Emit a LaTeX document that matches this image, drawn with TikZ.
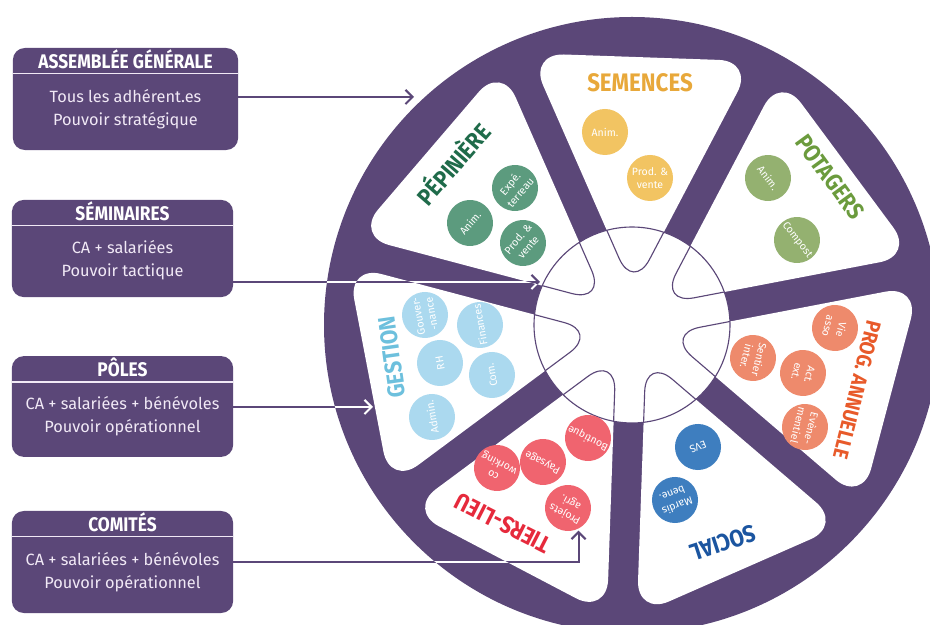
\documentclass[tikz,border=0pt]{standalone}
\usepackage{fontspec}
\setmainfont{Fira Sans}
\newfontfamily\headfont[FakeStretch=0.88]{Fira Sans}
\usetikzlibrary{calc,arrows.meta,positioning}

\definecolor{wheel}{HTML}{5B4778}
\definecolor{boxtext}{HTML}{F1E9F6}
\definecolor{pepT}{HTML}{1F6B4A}
\definecolor{pepB}{HTML}{5C9B7E}
\definecolor{semT}{HTML}{E8A83A}
\definecolor{semB}{HTML}{F2C462}
\definecolor{potT}{HTML}{6B9B3D}
\definecolor{potB}{HTML}{94B170}
\definecolor{proT}{HTML}{E85A2A}
\definecolor{proB}{HTML}{EE8A6C}
\definecolor{socT}{HTML}{1B55A0}
\definecolor{socB}{HTML}{3E7EBF}
\definecolor{tieT}{HTML}{E62A3C}
\definecolor{tieB}{HTML}{F0646F}
\definecolor{gesT}{HTML}{6DC0DD}
\definecolor{gesB}{HTML}{ABD9EF}

\begin{document}
\begin{tikzpicture}[x=0.025cm, y=0.025cm,
	>={Straight Barb[length=5pt,width=10pt]},
	box/.style={fill=wheel, rounded corners=0.3cm, minimum width=5.53cm, minimum height=2.52cm, inner sep=0pt},
	hdr/.style={text=white, font=\headfont\bfseries\fontsize{14}{14}\selectfont},
	txt/.style={text=boxtext, align=center, font=\fontsize{11.6}{16.3}\selectfont},
	divide/.style={draw=boxtext, line width=1pt},
	arr/.style={->, draw=wheel, line width=1.5pt},
	ttl/.style={font=\headfont\bfseries\fontsize{17}{17}\selectfont},
	bub/.style={circle, minimum size=1.15cm, inner sep=0pt, text=white, align=center, font=\fontsize{7.5}{9.5}\selectfont},
	pepbub/.style={bub, fill=pepB, rotate=50},
	sembub/.style={bub, fill=semB},
	potbub/.style={bub, fill=potB, rotate=-52},
	probub/.style={bub, fill=proB, rotate=-104},
	socbub/.style={bub, fill=socB, rotate=-158},
	tiebub/.style={bub, fill=tieB, rotate=153},
	gesbub/.style={bub, fill=gesB, rotate=100}]
	\path[use as bounding box] (0,0) rectangle (930,625);
	\clip (0,0) rectangle (930,625);
	\fill[white] (0,0) rectangle (930,625);
	
	% wheel
	\coordinate (C) at (632,300);
	\fill[wheel] (C) circle (308);
	\foreach \k/\ang in {0/88,1/36.57,2/-14.86,3/-66.29,4/-117.71,5/-169.14,6/139.43} {
		\coordinate (t\k) at ($(C)+(\ang:34.6)$);
		\coordinate (a\k) at ($(C)+({\ang-22.76}:290.6)$);
		\coordinate (b\k) at ($(C)+({\ang+22.76}:290.6)$);
	}
	\foreach \k in {0,...,6}
		\fill[white, rounded corners=0.875cm] (t\k) -- (a\k) -- (b\k) -- cycle;
	
	% hub
	\fill[white] (C) circle (98);
	\begin{scope}
		\clip (C) circle (98);
		\foreach \k in {0,...,6}
			\draw[wheel, line width=0.8pt, rounded corners=0.875cm] (t\k) -- (a\k) -- (b\k) -- cycle;
	\end{scope}
	\draw[wheel, line width=0.8pt] (C) circle (98);
	
	% titles
	\node[ttl, text=semT, font=\headfont\bfseries\fontsize{18}{18}\selectfont] (semt) at (640,542) {SEMENCES};
	\node[ttl, text=pepT, rotate=49] (pept) at (452,462) {PÉPINIÈRE};
	\node[ttl, text=potT, rotate=-54] (pott) at (830,448) {POTAGERS};
	\node[ttl, text=proT, rotate=-104, font=\headfont\bfseries\fontsize{15}{15}\selectfont] (prot) at (857,235) {PROG. ANNUELLE};
	\node[ttl, text=socT, rotate=-162] (soct) at (723,82) {SOCIAL};
	\node[ttl, text=tieT, rotate=153] (tiet) at (503,102) {TIERS-LIEU};
	\node[ttl, text=gesT, rotate=98] (gest) at (392,268) {GESTION};
	
	% bubbles
	\node[pepbub] (pepanim) at (470,402) {Anim.};
	\node[pepbub] (pepexpe) at (515,437) {Expé.\\terreau};
	\node[pepbub] (pepprod) at (523,382) {Prod. \&\\vente};
	\node[sembub] (semanim) at (605,493) {Anim.};
	\node[sembub] (semprod) at (650,447) {Prod. \&\\vente};
	\node[potbub] (potanim) at (768,447) {Anim.};
	\node[potbub] (potcomp) at (797,385) {Compost};
	\node[probub] (provie) at (835,297) {Vie\\asso};
	\node[probub] (prosent) at (753,267) {Sentier\\inter.};
	\node[probub] (proact) at (803,252) {Act.\\ext.};
	\node[probub] (proeve) at (805,198) {Evène-\\mentiel};
	\node[socbub] (socevs) at (698,178) {EVS};
	\node[socbub] (socmar) at (675,125) {Mardis\\bene.};
	\node[tiebub] (tieco) at (497,157) {co\\working};
	\node[tiebub] (tiepay) at (543,163) {Paysage};
	\node[tiebub] (tiebou) at (588,187) {Boutique};
	\node[tiebub] (tiepro) at (568,117) {Projets\\agri.};
	\node[gesbub] (gesgou) at (425,310) {Gouver-\\-nance};
	\node[gesbub] (gesfin) at (480,300) {Finances};
	\node[gesbub] (gesrh) at (440,262) {RH};
	\node[gesbub] (gescom) at (492,250) {Com.};
	\node[gesbub] (gesadm) at (432,208) {Admin.};
	
	% boxes
	\node[box, minimum width=5.63cm, minimum height=2.55cm] (agbox) at (125.5,526) {};
	\node[box, minimum height=2.43cm] (seminbox) at (122.5,376.5) {};
	\node[box] (polbox) at (122.5,218.5) {};
	\node[box, minimum height=2.55cm] (combox) at (122.5,63) {};
	\foreach \b in {agbox,seminbox,polbox,combox}
		\draw[divide] ($(\b.north west)+(0,-26)$) -- ($(\b.north east)+(0,-26)$);
	\node[hdr] (agh) at ($(agbox.north)+(0,-12)$) {ASSEMBLÉE GÉNÉRALE};
	\node[txt] (agt) at ($(agbox.center)+(0,-10)$) {Tous les adhérent.es\\Pouvoir stratégique};
	\node[hdr] (seminh) at ($(seminbox.north)+(0,-12)$) {SÉMINAIRES};
	\node[txt] (semint) at ($(seminbox.center)+(0,-12)$) {CA + salariées\\Pouvoir tactique};
	\node[hdr] (polh) at ($(polbox.north)+(0,-12)$) {PÔLES};
	\node[txt] (polt) at ($(polbox.center)+(0,-10)$) {CA + salariées + bénévoles\\Pouvoir opérationnel};
	\node[hdr] (comh) at ($(combox.north)+(0,-12)$) {COMITÉS};
	\node[txt] (comt) at ($(combox.center)+(0,-10)$) {CA + salariées + bénévoles\\Pouvoir opérationnel};
	
	% arrows
	\coordinate (agend) at (414,528);
	\coordinate (seminend) at (540,343);
	\coordinate (polend) at (373,218);
	\coordinate (projend) at ($(tiepro)+(-65:25)$);
	\draw[arr] (agbox.east |- agend) -- (agend);
	\draw[arr] (seminbox.east |- seminend) -- (seminend);
	\draw[arr] (polbox.east |- polend) -- (polend);
	\draw[arr] (combox.east) -| (projend);
	% white where the arrows cross the purple
	\begin{scope}[even odd rule, rounded corners=0.875cm]
		\clip (C) circle (308) (C) circle (98)
			\foreach \k in {0,...,6} {(t\k) -- (a\k) -- (b\k) -- cycle};
		\draw[arr, draw=white, sharp corners] (agbox.east |- agend) -- (agend);
		\draw[arr, draw=white, sharp corners] (seminbox.east |- seminend) -- (seminend);
		\draw[arr, draw=white, sharp corners] (polbox.east |- polend) -- (polend);
		\draw[arr, draw=white, sharp corners] (combox.east) -| (projend);
	\end{scope}
\end{tikzpicture}
\end{document}
